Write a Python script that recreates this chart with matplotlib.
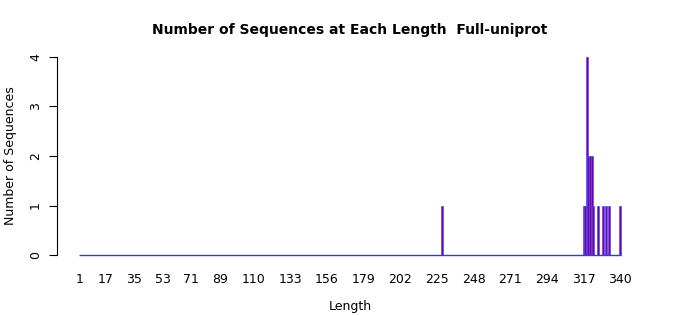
import matplotlib.pyplot as plt
import numpy as np

lengths = np.arange(1, 341)
nonzero_len = [228, 317, 318, 319, 320, 321, 322, 323, 326, 329, 331, 333, 340]
nonzero_cnt = [1, 1, 1, 4, 2, 2, 2, 1, 1, 1, 1, 1, 1]
tick_labels = [1, 17, 35, 53, 71, 89, 110, 133, 156, 179, 202, 225, 248, 271, 294, 317, 340]

counts = np.zeros(len(lengths))
for l, c in zip(nonzero_len, nonzero_cnt):
    counts[l - 1] = c

fig = plt.figure(figsize=(7, 3.15), dpi=100)
ax = fig.add_axes([57.3 / 700, 52 / 315, 585.4 / 700, 214 / 315])

nz = counts > 0
ax.bar(lengths[nz], counts[nz], width=1.25, color='#85008f', edgecolor='#4a4aff', linewidth=0.5)
# zero-length bars show as a blue baseline in the original
ax.hlines(0, lengths[0] - 0.5, lengths[-1] + 0.5, color='#3535f5', linewidth=1.0)

pad = 0.04 * 340
ax.set_xlim(0.5 - pad, 340.5 + pad)
ax.set_ylim(-0.16, 4.16)

for s in ['top', 'right', 'bottom']:
    ax.spines[s].set_visible(False)
ax.spines['left'].set_bounds(0, 4)
ax.spines['left'].set_linewidth(0.8)

ax.set_yticks([0, 1, 2, 3, 4])
ax.set_yticklabels(['0', '1', '2', '3', '4'], rotation=90, va='center', fontsize=9)
ax.tick_params(axis='y', length=6, width=0.8, pad=5)

ax.set_xticks(tick_labels)
ax.set_xticklabels([str(t) for t in tick_labels], fontsize=9)
ax.tick_params(axis='x', length=0, pad=7)

ax.set_xlabel('Length', fontsize=9, labelpad=10)
ax.set_ylabel('Number of Sequences', fontsize=9, labelpad=9)
ax.set_title('Number of Sequences at Each Length  Full-uniprot', fontsize=10, fontweight='bold', pad=11)

fig.savefig('out.png', dpi=100)
